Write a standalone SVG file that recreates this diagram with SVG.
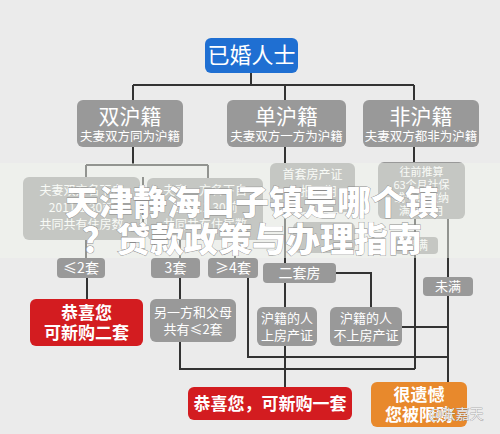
<svg xmlns="http://www.w3.org/2000/svg" width="500" height="434" viewBox="0 0 500 434">
<style>
text{font-family:"Noto Sans CJK SC","Noto Sans",sans-serif;fill:#fff;text-anchor:middle}
.g{fill:#999}
.red{fill:#d31c20}
.blue{fill:#1f6fd2}
.org{fill:#e8892c}
.ln{stroke:#333;stroke-width:2;fill:none}
.h1{font-size:21px}
.sub{font-size:12.5px}
.s12{font-size:12px}
.s11{font-size:11px}
.s13{font-size:13px}
.s14{font-size:14px}
.big{font-size:17px;font-weight:bold}
.ttl{font-size:34px;font-weight:900;fill:#fff;stroke:#8a8a8a;stroke-width:0.8;paint-order:stroke}
</style>
<rect width="500" height="434" fill="#ebebeb"/>
<g id="connectors" class="ln">
<path d="M251 73V85M133 85H414M133 85V100M285 85V100M414 85V100"/>
<path d="M133 147V165M86 165H208M86 165V177M208 165V178M143 177V250"/>
<path d="M86 240V258M180 240V258M235 240V258"/>
<path d="M87 278V299M180 278V299M248 278V357H448"/>
<path d="M180 342V369H415"/>
<path d="M285 147V163M285 212V263M285 283V307M285 346V387"/>
<path d="M336 273H371V307M402 327H448"/>
<path d="M414 147V162M415 219V369M448 219V277M448 296V382"/>
</g>
<g id="n-root"><rect class="blue" x="205" y="38" width="93" height="35" rx="6"/><text x="251.5" y="63" style="font-size:22px">已婚人士</text></g>
<g id="n-shuang"><rect class="g" x="77" y="100" width="106" height="47" rx="6"/><text class="h1" x="130" y="124">双沪籍</text><text class="sub" x="130" y="141">夫妻双方同为沪籍</text></g>
<g id="n-dan"><rect class="g" x="227" y="100" width="119" height="47" rx="6"/><text class="h1" x="286.5" y="124">单沪籍</text><text class="sub" x="286.5" y="141">夫妻双方一方为沪籍</text></g>
<g id="n-fei"><rect class="g" x="363" y="100" width="116" height="47" rx="6"/><text class="h1" x="421" y="124">非沪籍</text><text class="sub" x="421" y="141">夫妻双方都非为沪籍</text></g>
<g id="n-a"><rect class="g" x="23" y="177" width="117" height="63" rx="6"/><text class="s12" x="81.5" y="195">夫妻双方名下自</text><text class="s12" x="81.5" y="212">2011.1.30前</text><text class="s12" x="81.5" y="229">共同共有住房数</text></g>
<g id="n-b"><rect class="g" x="147" y="178" width="116" height="62" rx="6"/><text class="s12" x="205" y="195">夫妻一方名下自</text><text class="s12" x="205" y="212">2011.1.30前</text><text class="s12" x="205" y="229">共同共有住房数</text></g>
<g id="n-le2"><rect class="g" x="57" y="258" width="48" height="20" rx="4"/><text class="s14" x="81" y="273">≤2套</text></g>
<g id="n-3"><rect class="g" x="151" y="258" width="49" height="20" rx="4"/><text class="s14" x="175.5" y="273">3套</text></g>
<g id="n-ge4"><rect class="g" x="208" y="258" width="50" height="20" rx="4"/><text class="s14" x="233" y="273">≥4套</text></g>
<g id="n-ok2"><rect class="red" x="30" y="299" width="113" height="47" rx="6"/><text class="big" x="86.5" y="319">恭喜您</text><text class="big" x="86.5" y="339">可新购二套</text></g>
<g id="n-par"><rect class="g" x="150" y="299" width="86" height="43" rx="6"/><text class="s13" x="193" y="317">另一方和父母</text><text class="s13" x="193" y="334">共有≤2套</text></g>
<g id="n-first"><rect class="g" x="270" y="163" width="85" height="49" rx="6"/><text class="s12" x="312.5" y="179">首套房产证</text><text class="s12" x="312.5" y="196">申报日期</text></g>
<g id="n-mid"><rect class="g" x="293" y="222" width="62" height="31" rx="6"/></g>
<g id="n-second"><rect class="g" x="263" y="263" width="73" height="20" rx="4"/><text class="s14" x="299.5" y="278">二套房</text></g>
<g id="n-on"><rect class="g" x="257" y="307" width="60" height="39" rx="6"/><text class="s13" x="287" y="323">沪籍的人</text><text class="s13" x="287" y="340">上房产证</text></g>
<g id="n-off"><rect class="g" x="330" y="307" width="72" height="39" rx="6"/><text class="s13" x="366" y="323">沪籍的人</text><text class="s13" x="366" y="340">不上房产证</text></g>
<g id="n-back"><rect class="g" x="378" y="162" width="87" height="57" rx="6"/><text class="s11" x="421.5" y="176">往前推算</text><text class="s11" x="421.5" y="189">63个月社保</text><text class="s11" x="421.5" y="202">或个税缴纳</text><text class="s11" x="421.5" y="215">满60个月</text></g>
<g id="n-full"><rect class="g" x="394" y="237" width="44" height="17" rx="4"/><text class="s12" x="416" y="250">已满</text></g>
<g id="n-notfull"><rect class="g" x="423" y="277" width="50" height="19" rx="4"/><text class="s13" x="448" y="291">未满</text></g>
<g id="n-ok1"><rect class="red" x="188" y="387" width="164" height="33" rx="6"/><text class="big" x="270" y="410">恭喜您，可新购一套</text></g>
<g id="n-no"><rect class="org" x="371" y="382" width="96" height="45" rx="6"/><text class="big" x="419" y="401">很遗憾</text><text class="big" x="419" y="421">您被限购</text></g>
<rect x="0" y="163" width="500" height="95" fill="#f2f6ee" opacity="0.5"/>
<text class="ttl" x="252" y="215">天津静海口子镇是哪个镇</text>
<text class="ttl" x="252" y="252">？贷款政策与办理指南</text>
<text x="456" y="419" style="font-size:14px;fill:#eee;stroke:#777;stroke-width:0.5;paint-order:stroke">@张嘉天</text>
</svg>
